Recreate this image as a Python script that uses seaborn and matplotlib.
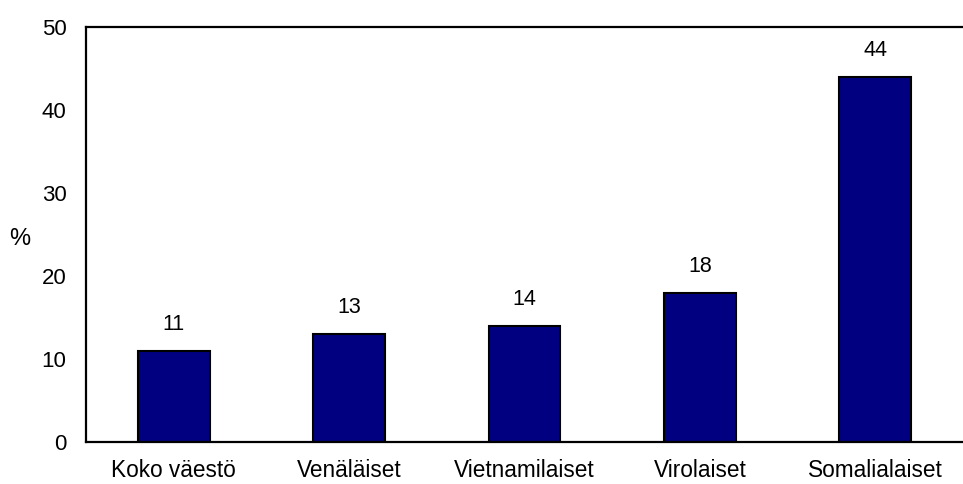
import matplotlib
import matplotlib.pyplot as plt
import pandas as pd
import seaborn as sns

matplotlib.use("Agg")

categories = ["Koko väestö", "Venäläiset", "Vietnamilaiset", "Virolaiset", "Somalialaiset"]
values = [11, 13, 14, 18, 44]

sns.set_style("white")
plt.rcParams["font.family"] = ["Liberation Sans", "DejaVu Sans"]
plt.rcParams["text.color"] = "black"
plt.rcParams["xtick.color"] = "black"
plt.rcParams["ytick.color"] = "black"
plt.rcParams["axes.labelcolor"] = "black"

df = pd.DataFrame({"group": categories, "pct": values})

fig = plt.figure(figsize=(9.63, 4.84), dpi=100)
ax = fig.add_axes([0.0893, 0.0868, 0.9107, 0.857])
sns.barplot(data=df, x="group", y="pct", color="#000080", saturation=1,
            width=0.41, edgecolor="black", linewidth=1.5, ax=ax)

for i, v in enumerate(values):
    ax.text(i, v + 1.9, str(v), ha="center", va="bottom", fontsize=15.5)

ax.set_xlim(-0.5, 4.5)
ax.set_ylim(0, 50)
ax.set_yticks(range(0, 51, 10))
ax.set_xlabel("")
ax.set_ylabel("%", rotation=0, fontsize=17, va="center", ha="center")
ax.yaxis.set_label_coords(-0.076, 0.49)
ax.tick_params(axis="y", length=0, labelsize=16, pad=14)
ax.tick_params(axis="x", length=0, labelsize=16.3, pad=12)
for side in ["left", "top", "bottom"]:
    ax.spines[side].set_color("black")
    ax.spines[side].set_linewidth(1.6)
ax.spines["right"].set_visible(False)

fig.savefig("out.png", dpi=100)
